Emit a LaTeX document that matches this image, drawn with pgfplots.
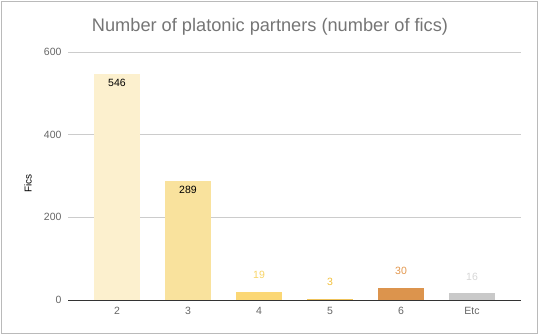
\documentclass[border=0pt]{standalone}
\usepackage{fontspec}
\setmainfont{Liberation Sans}
\usepackage{pgfplots}
\pgfplotsset{compat=1.18}
\definecolor{cA}{HTML}{FCF0CE}
\definecolor{cB}{HTML}{F9E29D}
\definecolor{cC}{HTML}{FBD775}
\definecolor{cD}{HTML}{EFC35A}
\definecolor{cE}{HTML}{DC944D}
\definecolor{cF}{HTML}{C9C9C9}
\definecolor{lC}{HTML}{F8D466}
\definecolor{lD}{HTML}{F2C03C}
\definecolor{lE}{HTML}{E2964C}
\definecolor{lF}{HTML}{D6D6D6}
\definecolor{txt}{HTML}{666666}
\definecolor{ttl}{HTML}{757575}
\definecolor{grd}{HTML}{CCCCCC}
\begin{document}
\begin{tikzpicture}[x=1pt,y=1pt]
\useasboundingbox (0,0) rectangle (540,335);
\draw[color=black!27, line width=1pt] (1.5,1.5) rectangle (537.5,333.5);
\node[font=\fontsize{18.2}{22}\selectfont, text=ttl, anchor=base] at (270,303) {Number of platonic partners (number of fics)};
\begin{axis}[
  at={(68pt,35pt)}, anchor=south west,
  scale only axis, width=453pt, height=248pt,
  xmin=-0.69, xmax=5.69, ymin=0, ymax=600,
  xtick={0,1,2,3,4,5}, xticklabels={2,3,4,5,6,Etc},
  ytick={0,200,400,600},
  axis x line*=bottom, axis y line*=left,
  x axis line style={color=black!80, line width=0.9pt, -},
  y axis line style={draw=none},
  ymajorgrids, major grid style={color=grd, line width=0.6pt},
  major tick length=0pt,
  tick label style={font=\fontsize{10.5}{12}\selectfont, text=txt},
  xticklabel style={yshift=-4pt},
  yticklabel style={xshift=-3pt},
  /pgf/number format/assume math mode=true,
  ylabel={Fics},
  ylabel style={font=\fontsize{10.5}{12}\selectfont, text=black!85},
  every axis y label/.style={at={(axis description cs:0,0.47)}, xshift=-40pt, rotate=90, anchor=center},
  ybar, bar width=46pt, bar shift=0pt,
  clip=false,
  nodes near coords,
  every node near coord/.append style={font=\fontsize{10.5}{12}\selectfont},
]
\addplot[fill=cA, draw=none, nodes near coords style={text=black, anchor=center, yshift=-9pt}] coordinates {(0,546)};
\addplot[fill=cB, draw=none, nodes near coords style={text=black, anchor=center, yshift=-9pt}] coordinates {(1,289)};
\addplot[fill=cC, draw=none, nodes near coords style={text=lC, anchor=center, yshift=17pt}] coordinates {(2,19)};
\addplot[fill=cD, draw=none, nodes near coords style={text=lD, anchor=center, yshift=17pt}] coordinates {(3,3)};
\addplot[fill=cE, draw=none, nodes near coords style={text=lE, anchor=center, yshift=17pt}] coordinates {(4,30)};
\addplot[fill=cF, draw=none, nodes near coords style={text=lF, anchor=center, yshift=17pt}] coordinates {(5,16)};
\end{axis}
\end{tikzpicture}
\end{document}
